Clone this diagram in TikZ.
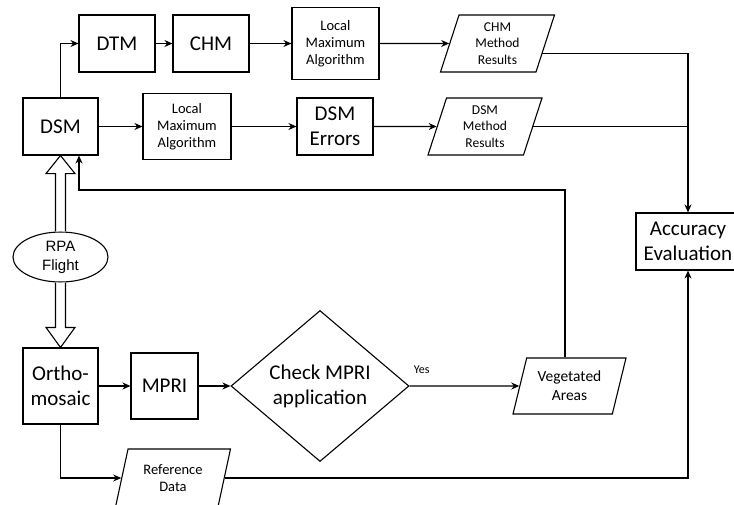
\documentclass[tikz,border=0pt]{standalone}
\usepackage{fontspec}
\setmainfont{Carlito}
\newfontfamily\arialfont{Liberation Sans}
\usetikzlibrary{shapes.geometric,arrows.meta,calc,positioning}

\tikzset{
  base/.style={draw, line width=1.1pt, align=center, inner sep=2pt},
  bigbox/.style={base, rectangle, font=\fontsize{21}{25}\selectfont},
  smallbox/.style={base, rectangle, font=\fontsize{14.5}{17}\selectfont},
  datanode/.style={base, trapezium, trapezium left angle=68, trapezium right angle=112,
    trapezium stretches body, minimum height=57, minimum width=114},
  arr/.style={-{Stealth[length=8pt,width=7pt]}, line width=1.1pt},
  line/.style={line width=1.1pt},
  hollow/.style={draw, line width=1.1pt, fill=white, line join=miter},
}

\begin{document}
\begin{tikzpicture}[x=1pt,y=-1pt]
\useasboundingbox (0,0) rectangle (734,504);

% upper branch
\node[bigbox, minimum width=76, minimum height=57] (dtm) at (117,43.5) {DTM};
\node[bigbox, minimum width=76, minimum height=57] (chm) at (211,43.5) {CHM};
\node[smallbox, minimum width=87, minimum height=72] (lmaA) at (335.5,43.5) {Local\\Maximum\\Algorithm};
\node[datanode, font=\fontsize{13.5}{16.5}\selectfont] (chmres) at (497.5,43.5) {CHM\\Method\\Results};

\node[bigbox, minimum width=75, minimum height=57] (dsm) at (60.5,126.5) {DSM};
\node[smallbox, minimum width=88, minimum height=66] (lmaB) at (187,126.5) {Local\\Maximum\\Algorithm};
\node[bigbox, minimum width=76, minimum height=57] (dsmerr) at (335,126.5) {DSM\\Errors};
\node[datanode, font=\fontsize{13.5}{16.5}\selectfont] (dsmres) at (485,126.5) {DSM\\Method\\Results};

\node[bigbox, minimum width=104, minimum height=57] (acc) at (688,241.5) {Accuracy\\Evaluation};

\node[base, ellipse, minimum width=95, minimum height=50, inner sep=0pt,
  font=\arialfont\fontsize{15}{19}\selectfont] (rpa) at (60.5,257) {RPA\\Flight};

% lower branch
\node[bigbox, minimum width=75, minimum height=76] (ortho) at (60.5,386) {Ortho-\\mosaic};
\node[bigbox, minimum width=67, minimum height=66] (mpri) at (164.5,386) {MPRI};
\node[bigbox, diamond, minimum width=178, minimum height=151, inner sep=0pt, shape aspect=1.2] (check) at (320,386) {Check MPRI\\application};
\node[datanode, font=\fontsize{15.5}{19}\selectfont, minimum width=113, minimum height=56] (veg) at (569.5,386) {Vegetated\\Areas};
\node[datanode, font=\fontsize{14.5}{17}\selectfont, minimum width=115, minimum height=58] (refdata) at (173,478) {Reference\\Data};

\coordinate (chmout) at ($(chmres.east)+(-4,10)$);
\coordinate (fbTop) at (565,190);
\coordinate (fbIn) at ($(dsm.south)+(18.5,0)$);

\draw[arr] (dsm.north) |- (dtm.west);
\draw[arr] (dtm) -- (chm);
\draw[arr] (chm) -- (lmaA);
\draw[arr] (lmaA) -- (chmres);
\draw[arr] (dsm) -- (lmaB);
\draw[arr] (lmaB) -- (dsmerr);
\draw[arr] (dsmerr) -- (dsmres);
\draw[arr] (chmout) -| (acc.north);
\draw[line] (dsmres.east) -- (dsmres.east -| acc.north);

\draw[arr] (ortho) -- (mpri);
\draw[arr] (mpri) -- (check);
\draw[arr] (check.east) -- node[pos=0.11, above=12pt, inner sep=0pt, font=\fontsize{12}{14}\selectfont] (yes) {Yes} (veg.west);
\draw[arr] (fbTop |- veg.north) -- (fbTop) -| (fbIn);
\draw[arr] (ortho.south) |- (refdata.west);
\draw[arr] (refdata.east) -| (acc.south);

% hollow arrows
\draw[hollow] ($(rpa.north)+(-5,0)$) -- ($(dsm.south)+(-5,18)$) -- ++(-9.5,0) -- (dsm.south)
  -- ($(dsm.south)+(14.5,18)$) -- ++(-9.5,0) -- ($(rpa.north)+(5,0)$);
\draw[hollow] ($(rpa.south)+(-5,0)$) -- ($(ortho.north)+(-5,-20)$) -- ++(-9.5,0) -- (ortho.north)
  -- ($(ortho.north)+(14.5,-20)$) -- ++(-9.5,0) -- ($(rpa.south)+(5,0)$);
\end{tikzpicture}
\end{document}
